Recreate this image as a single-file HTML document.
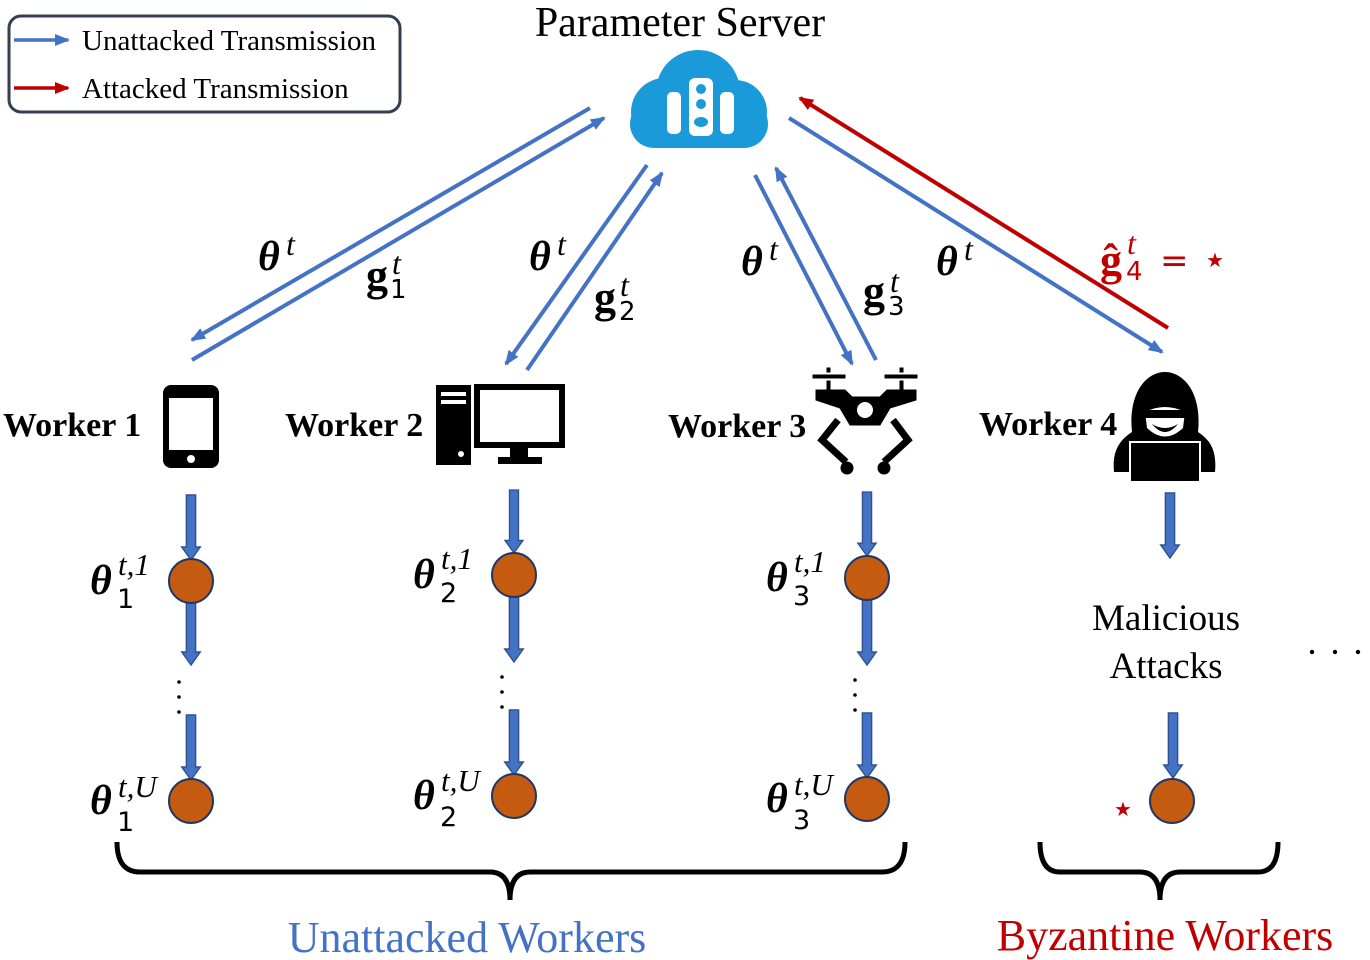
<!DOCTYPE html>
<html><head><meta charset="utf-8"><style>body{margin:0;background:#fff}svg{display:block}text{font-family:"Liberation Serif",serif}.s{font-family:"DejaVu Sans","Liberation Sans",sans-serif}</style></head><body>
<svg width="1370" height="960" viewBox="0 0 1370 960" xmlns="http://www.w3.org/2000/svg">
<defs>
<marker id="ab" markerWidth="16" markerHeight="14" refX="13" refY="6" orient="auto" markerUnits="userSpaceOnUse"><path d="M0,0 L15,6 L0,12 Z" fill="#4472C4"/></marker>
<marker id="ar" markerWidth="16" markerHeight="14" refX="13" refY="6" orient="auto" markerUnits="userSpaceOnUse"><path d="M0,0 L15,6 L0,12 Z" fill="#C00000"/></marker>
<symbol id="va" viewBox="0 0 20 70" overflow="visible"><path d="M5,0 H15 V56 H20 L10,70 L0,56 H5 Z" fill="#4472C4" stroke="#2F528F" stroke-width="1.5"/></symbol>
</defs>
<rect x="9" y="16" width="391" height="96" rx="12" fill="#fff" stroke="#333F50" stroke-width="3"/>
<line x1="14" y1="40" x2="68" y2="40" stroke="#4472C4" stroke-width="3.5" marker-end="url(#ab)"/>
<line x1="14" y1="88" x2="68" y2="88" stroke="#C00000" stroke-width="3.5" marker-end="url(#ar)"/>
<text x="82" y="50" font-size="29">Unattacked Transmission</text>
<text x="82" y="98" font-size="29">Attacked Transmission</text>
<text x="680" y="36" font-size="42" text-anchor="middle">Parameter Server</text>
<g fill="#1A9AD9">
<circle cx="698" cy="92" r="42"/><circle cx="665" cy="112" r="34"/><circle cx="735" cy="112" r="32"/>
<rect x="630" y="100" width="138" height="48" rx="24"/>
</g>
<g fill="#fff"><rect x="667" y="92" width="14" height="42" rx="5"/><rect x="689" y="78" width="24" height="58" rx="6"/><rect x="720" y="92" width="14" height="42" rx="5"/></g>
<g fill="#1A9AD9"><circle cx="701" cy="89" r="5"/><circle cx="701" cy="104" r="5"/><ellipse cx="701" cy="122" rx="7" ry="5"/></g>
<g stroke="#4472C4" stroke-width="4" fill="none">
<line x1="590" y1="108" x2="192" y2="340" marker-end="url(#ab)"/>
<line x1="192" y1="360" x2="604" y2="118" marker-end="url(#ab)"/>
<line x1="647" y1="165" x2="506" y2="364" marker-end="url(#ab)"/>
<line x1="527" y1="370" x2="662" y2="173" marker-end="url(#ab)"/>
<line x1="755" y1="175" x2="852" y2="364" marker-end="url(#ab)"/>
<line x1="876" y1="360" x2="776" y2="168" marker-end="url(#ab)"/>
<line x1="789" y1="118" x2="1162" y2="352" marker-end="url(#ab)"/>
</g>
<line x1="1168" y1="328" x2="800" y2="98" stroke="#C00000" stroke-width="4" marker-end="url(#ar)"/>
<g font-size="42" font-weight="bold" font-style="italic">
<text x="258" y="270">θ</text><text x="529" y="270">θ</text><text x="741" y="275">θ</text><text x="936" y="275">θ</text>
</g>
<g font-size="32" font-style="italic">
<text x="286" y="255">t</text><text x="557" y="255">t</text><text x="769" y="260">t</text><text x="964" y="260">t</text>
<text x="392" y="274">t</text><text x="620" y="296">t</text><text x="890" y="292">t</text>
<text x="1127" y="254" fill="#C00000">t</text>
</g>
<g font-size="44" font-weight="bold">
<text x="366" y="290">g</text><text x="594" y="312">g</text><text x="863" y="306">g</text>
<text x="1100" y="275" fill="#C00000">ĝ</text>
</g>
<g class="s" font-size="26">
<text class="s" x="390" y="298">1</text><text class="s" x="619" y="320">2</text><text class="s" x="888" y="315">3</text>
<text class="s" x="1126" y="280" fill="#C00000">4</text>
</g>
<text class="s" x="1160" y="272" font-size="34" fill="#C00000">=</text>
<text class="s" x="1215" y="267" font-size="20" fill="#C00000" text-anchor="middle">★</text>
<g font-size="34" font-weight="bold">
<text x="3" y="436">Worker 1</text>
<text x="285" y="436">Worker 2</text>
<text x="668" y="437">Worker 3</text>
<text x="979" y="435">Worker 4</text>
</g>
<rect x="163" y="385" width="56" height="83" rx="8" fill="#000"/>
<rect x="169" y="398" width="44" height="52" fill="#fff"/>
<circle cx="191" cy="459" r="4" fill="#fff"/>
<rect x="436" y="385" width="35" height="80" fill="#000"/>
<rect x="441" y="392" width="25" height="4" fill="#fff"/><rect x="441" y="400" width="25" height="4" fill="#fff"/>
<circle cx="461" cy="454" r="3" fill="#fff"/>
<rect x="477" y="387" width="85" height="58" fill="#fff" stroke="#000" stroke-width="6"/>
<rect x="510" y="447" width="18" height="10" fill="#000"/><rect x="498" y="457" width="44" height="7" fill="#000"/>
<g fill="#000" stroke="#000">
<rect x="813" y="375" width="32" height="3"/><rect x="885" y="375" width="32" height="3"/>
<rect x="827" y="368" width="3" height="4"/><rect x="900" y="368" width="3" height="4"/>
<rect x="827" y="381" width="3" height="9"/><rect x="900" y="381" width="3" height="9"/>
<path d="M816,390 H845 L852,397 H880 L887,390 H916 V400 L890,408 L880,425 H850 L840,408 L816,400 Z"/>
<polyline points="838,420 822,440 846,462" fill="none" stroke-width="7"/>
<polyline points="893,420 908,440 884,462" fill="none" stroke-width="7"/>
<circle cx="847" cy="468" r="6"/><circle cx="884" cy="468" r="6"/>
</g>
<circle cx="865" cy="410" r="10" fill="#fff" stroke="#000" stroke-width="4"/>
<path d="M1114,472 C1112,450 1120,440 1132,432 C1128,395 1145,372 1165,372 C1185,372 1202,395 1198,432 C1210,440 1217,450 1215,472 Z" fill="#000"/>
<path d="M1145,412 Q1165,402 1185,412 L1183,428 Q1165,445 1147,428 Z" fill="#fff"/>
<rect x="1145" y="410" width="40" height="8" fill="#000"/>
<path d="M1152,424 Q1165,440 1178,424 Q1165,432 1152,424" fill="#000"/>
<rect x="1130" y="442" width="70" height="40" fill="#000" stroke="#fff" stroke-width="2"/>
<g>
<use href="#va" x="181" y="495" width="20" height="65"/>
<use href="#va" x="181" y="600" width="20" height="65"/>
<use href="#va" x="181" y="715" width="20" height="65"/>
<use href="#va" x="504" y="490" width="20" height="63"/>
<use href="#va" x="504" y="597" width="20" height="65"/>
<use href="#va" x="504" y="710" width="20" height="65"/>
<use href="#va" x="857" y="492" width="20" height="64"/>
<use href="#va" x="857" y="600" width="20" height="65"/>
<use href="#va" x="857" y="713" width="20" height="65"/>
<use href="#va" x="1160" y="493" width="20" height="65"/>
<use href="#va" x="1163" y="713" width="20" height="65"/>
</g>
<g fill="#C55A11" stroke="#1F3864" stroke-width="2">
<circle cx="191" cy="581" r="22"/><circle cx="191" cy="801" r="22"/>
<circle cx="514" cy="575" r="22"/><circle cx="514" cy="796" r="22"/>
<circle cx="867" cy="578" r="22"/><circle cx="867" cy="799" r="22"/>
<circle cx="1172" cy="801" r="22"/>
</g>
<g fill="#000"><circle cx="179" cy="682" r="1.8"/><circle cx="179" cy="697" r="1.8"/><circle cx="179" cy="712" r="1.8"/>
<circle cx="502" cy="677" r="1.8"/><circle cx="502" cy="692" r="1.8"/><circle cx="502" cy="707" r="1.8"/>
<circle cx="855" cy="680" r="1.8"/><circle cx="855" cy="695" r="1.8"/><circle cx="855" cy="710" r="1.8"/>
<circle cx="1312" cy="652" r="2.2"/><circle cx="1335" cy="652" r="2.2"/><circle cx="1358" cy="652" r="2.2"/></g>
<g font-size="42" font-weight="bold" font-style="italic">
<text x="90" y="594">θ</text><text x="90" y="814">θ</text>
<text x="413" y="588">θ</text><text x="413" y="809">θ</text>
<text x="766" y="591">θ</text><text x="766" y="812">θ</text>
</g>
<g font-size="31" font-style="italic">
<text x="118" y="575">t,1</text><text x="118" y="797">t,U</text>
<text x="441" y="569">t,1</text><text x="441" y="791">t,U</text>
<text x="794" y="572">t,1</text><text x="794" y="795">t,U</text>
</g>
<g font-size="27">
<text class="s" x="117" y="608">1</text><text class="s" x="117" y="831">1</text>
<text class="s" x="440" y="602">2</text><text class="s" x="440" y="826">2</text>
<text class="s" x="793" y="605">3</text><text class="s" x="793" y="829">3</text>
</g>
<text class="s" x="1123" y="816" font-size="20" fill="#C00000" text-anchor="middle">★</text>
<text x="1166" y="630" font-size="37" text-anchor="middle">Malicious</text>
<text x="1166" y="678" font-size="37" text-anchor="middle">Attacks</text>
<path d="M117,842 Q117,872 140,872 H490 Q510,872 510,900 Q510,872 530,872 H882 Q905,872 905,842" fill="none" stroke="#000" stroke-width="5"/>
<path d="M1040,842 Q1040,872 1060,872 H1140 Q1160,872 1160,900 Q1160,872 1180,872 H1258 Q1278,872 1278,842" fill="none" stroke="#000" stroke-width="5"/>
<text x="467" y="952" font-size="44" fill="#4472C4" text-anchor="middle">Unattacked Workers</text>
<text x="1165" y="950" font-size="44" fill="#C00000" text-anchor="middle">Byzantine Workers</text>
</svg>
</body></html>
